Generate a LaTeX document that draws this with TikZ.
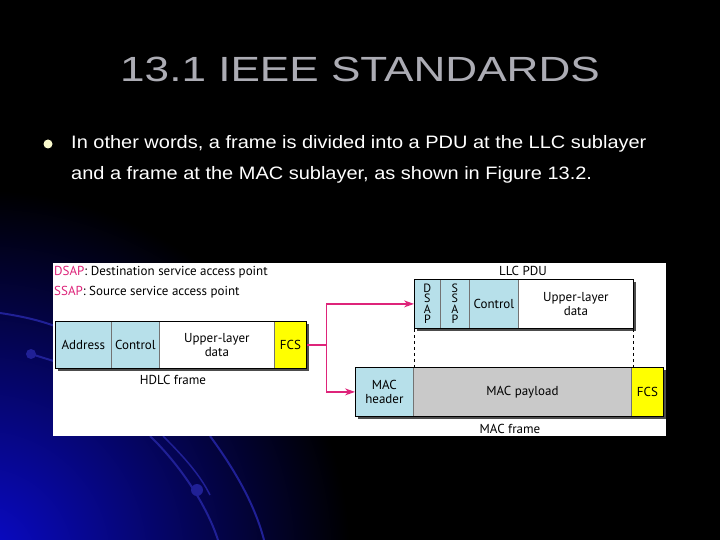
\documentclass[tikz,border=0pt]{standalone}
\usepackage{fontspec}
\usepackage{graphicx}
\setmainfont{Liberation Sans}
\newfontfamily\figfont{PT Sans}
\usetikzlibrary{arrows.meta,positioning}

\definecolor{slideblue}{RGB}{10,10,205}
\definecolor{arcblue}{RGB}{32,32,150}
\definecolor{titlegray}{RGB}{172,172,180}
\definecolor{bulletyellow}{RGB}{250,250,205}
\definecolor{fieldblue}{RGB}{183,224,234}
\definecolor{fieldgray}{RGB}{201,201,201}
\definecolor{fieldyellow}{RGB}{255,255,0}
\definecolor{linkpink}{RGB}{222,36,122}

\tikzset{
  field/.style={draw=black!55, line width=0.8pt, inner sep=0pt, anchor=north west,
    align=center, text=black, font=\figfont\fontsize{13}{14}\selectfont},
  framelabel/.style={text=black, font=\figfont\fontsize{13}{14}\selectfont},
  shadowbox/.style={fill=black!70},
  link/.style={draw=linkpink, line width=1.3pt, -{Stealth[length=10pt,width=7pt]}},
  slidetext/.style={anchor=base west, text=white, inner sep=0pt, font=\fontsize{18}{20}\selectfont},
}

\begin{document}
\begin{tikzpicture}[x=1pt, y=-1pt]
  \useasboundingbox (0,0) rectangle (720,540);
  % slide background
  \fill[black] (0,0) rectangle (720,540);
  \begin{scope}
    \clip (0,0) rectangle (720,540);
    \shade[inner color=slideblue, outer color=black] (-20,560) circle (370);
    \draw[arcblue, line width=2pt] (0,313) .. controls (20,316) and (40,320) .. (60,328);
    \draw[arcblue, line width=2pt] (31,354) -- (60,363);
    \fill[arcblue] (31,354) circle (5);
    \draw[arcblue, line width=2pt] (150,436) .. controls (175,460) and (205,500) .. (218,540);
    \draw[arcblue, line width=1.5pt] (163,436) .. controls (185,458) and (200,475) .. (210,495);
    \draw[arcblue, line width=2pt] (210,436) .. controls (235,470) and (255,505) .. (264,540);
    \fill[arcblue] (197,490) circle (6);
  \end{scope}

  % title and bullet
  \node (title) at (360,69.5) [text=titlegray, inner sep=0pt]
    {\scalebox{1.26}[1]{\fontsize{35}{40}\selectfont 13.1 IEEE STANDARDS}};
  \fill[bulletyellow] (48,144) circle (4.5);
  \node (line1) at (71,149) [slidetext]
    {\scalebox{1.11}[1]{In other words, a frame is divided into a PDU at the LLC sublayer}};
  \node (line2) at (71,180) [slidetext]
    {\scalebox{1.11}[1]{and a frame at the MAC sublayer, as shown in Figure 13.2.}};

  % figure panel
  \fill[white] (53,263) rectangle (666,436);
  \node (dsapkey) at (54,272) [anchor=west, inner sep=0pt, framelabel] {\textcolor{linkpink}{DSAP}: Destination service access point};
  \node (ssapkey) at (54,292) [anchor=west, inner sep=0pt, framelabel] {\textcolor{linkpink}{SSAP}: Source service access point};

  % HDLC frame
  \fill[shadowbox] (58,324) rectangle (309,371);
  \node (addr) at (55,321) [field, fill=fieldblue, minimum width=56pt, minimum height=47pt] {Address};
  \node (ctrlH) at (111,321) [field, fill=fieldblue, minimum width=48pt, minimum height=47pt] {Control};
  \node (dataH) at (159,321) [field, fill=white, minimum width=115pt, minimum height=47pt] {Upper-layer\\data};
  \node (fcsH) at (274,321) [field, fill=fieldyellow, minimum width=32pt, minimum height=47pt] {FCS};
  \draw[black, line width=0.8pt] (addr.north west) rectangle (fcsH.south east);
  \node (hdlc) at (173,380) [framelabel] {HDLC frame};

  % LLC PDU
  \fill[shadowbox] (417,282) rectangle (636,331);
  \node (dsap) at (414,279) [field, fill=fieldblue, minimum width=26pt, minimum height=49pt, font=\figfont\fontsize{12}{10.5}\selectfont] {D\\S\\A\\P};
  \node (ssap) at (440,279) [field, fill=fieldblue, minimum width=29pt, minimum height=49pt, font=\figfont\fontsize{12}{10.5}\selectfont] {S\\S\\A\\P};
  \node (ctrlL) at (469,279) [field, fill=fieldblue, minimum width=49pt, minimum height=49pt] {Control};
  \node (dataL) at (518,279) [field, fill=white, minimum width=115pt, minimum height=49pt] {Upper-layer\\data};
  \draw[black, line width=0.8pt] (dsap.north west) rectangle (dataL.south east);
  \node (llc) at (523,271) [framelabel] {LLC PDU};

  % MAC frame
  \fill[shadowbox] (358,370) rectangle (666,419);
  \node (hdr) at (355,367) [field, fill=fieldblue, minimum width=58pt, minimum height=49pt] {MAC\\header};
  \node (payload) at (413,367) [field, fill=fieldgray, minimum width=218pt, minimum height=49pt] {MAC payload};
  \node (fcsM) at (631,367) [field, fill=fieldyellow, minimum width=32pt, minimum height=49pt] {FCS};
  \draw[black, line width=0.8pt] (hdr.north west) rectangle (fcsM.south east);
  \node (macframe) at (510,429) [framelabel] {MAC frame};

  % links
  \coordinate (split) at ([xshift=20pt]fcsH.east);
  \draw[link] (fcsH.east) -- (split) |- (dsap.west);
  \draw[link] (split) |- (hdr.west);
  \draw[dashed, line width=0.7pt] (dsap.south west) -- (dsap.south west |- payload.north);
  \draw[dashed, line width=0.7pt] (dataL.south east) -- (dataL.south east |- payload.north);
\end{tikzpicture}
\end{document}
